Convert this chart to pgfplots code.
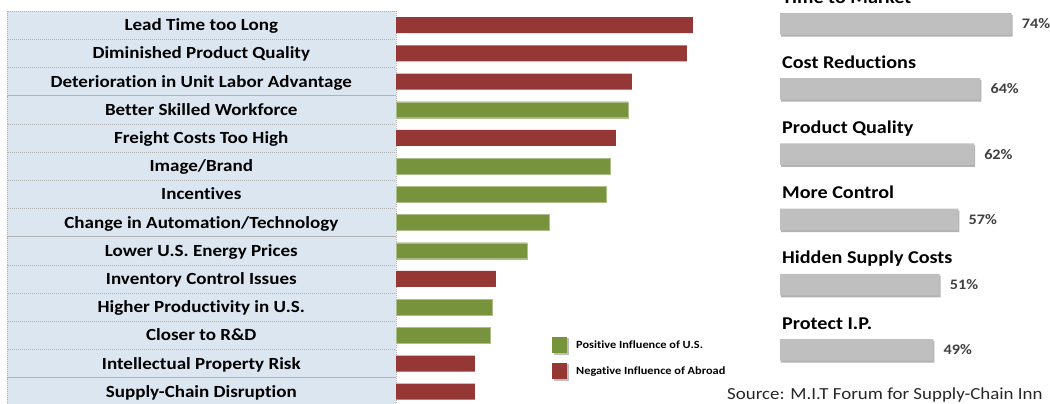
\documentclass[border=0pt]{standalone}
\usepackage{fontspec}
\setmainfont{Carlito}[FakeStretch=1.12, Ligatures=NoCommon]
\usepackage{pgfplots}
\pgfplotsset{compat=1.18}
\usetikzlibrary{shadows}

\definecolor{negred}{HTML}{953735}
\definecolor{posgreen}{HTML}{77933C}
\definecolor{cellblue}{HTML}{DCE6F1}
\definecolor{bargray}{HTML}{BFBFBF}
\definecolor{pctgray}{HTML}{404040}

\begin{document}
\begin{tikzpicture}
\useasboundingbox (0,0) rectangle (1050bp,404bp);
\clip (0,0) rectangle (1050bp,404bp);

% left: factors behind reshoring
\begin{axis}[
    at={(396bp,393bp)}, anchor=north west,
    scale only axis, width=330bp, height=394.8bp,
    xmin=0, xmax=66, ymin=-0.5, ymax=13.5, y dir=reverse,
    xbar, bar width=16bp, bar shift=0pt,
    axis line style={draw=none},
    xtick=\empty, ytick={0,...,13}, major tick length=0pt,
    yticklabels={Lead Time too Long, Diminished Product Quality,
        Deterioration in Unit Labor Advantage, Better Skilled Workforce,
        Freight Costs Too High, Image/Brand, Incentives,
        Change in Automation/Technology, Lower U.S. Energy Prices,
        Inventory Control Issues, Higher Productivity in U.S.,
        Closer to R\&D, Intellectual Property Risk, Supply-Chain Disruption},
    yticklabel style={font=\bfseries\fontsize{17bp}{17bp}\selectfont,
        fill=cellblue, draw=black!30, dash pattern=on 1bp off 1bp,
        minimum width=389bp, minimum height=28.2bp, inner sep=0pt,
        text height=13bp, text depth=2bp, anchor=east, align=center},
    legend style={draw=none, fill=none, at={(0.4727,0.176)}, anchor=north west,
        font=\bfseries\fontsize{11bp}{11bp}\selectfont, row sep=8bp,
        inner sep=0pt, nodes={inner sep=1bp}},
    legend cell align=left,
    legend image code/.code={
        \path[draw=none, fill=none] (0bp,0bp) -- (23bp,0bp);
        \fill[black!25, draw=none] (1.5bp,-9.5bp) rectangle (16.5bp,7.5bp);
        \fill[#1, draw=none] (0bp,-8bp) rectangle (15bp,8.5bp);},
]
\addplot[fill=posgreen, draw=posgreen!60!white] coordinates {
    (46.4,3) (42.8,5) (42.0,6) (30.6,7) (26.2,8) (19.2,10) (18.8,11)};
\addlegendentry{Positive Influence of U.S.}
\addplot[fill=negred, draw=none] coordinates {
    (59.4,0) (58.2,1) (47.2,2) (44.0,4) (20.0,9) (15.8,12) (15.8,13)};
\addlegendentry{Negative Influence of Abroad}
\end{axis}

% right: reasons, share of respondents
\begin{axis}[
    at={(780bp,412.8bp)}, anchor=north west,
    scale only axis, width=250.4bp, height=391.2bp,
    xmin=0, xmax=80, ymin=-0.5, ymax=5.5, y dir=reverse,
    xbar, bar width=21.5bp, hide axis, clip=false,
    point meta=x,
    nodes near coords={\pgfmathprintnumber{\pgfplotspointmeta}\%},
    every node near coord/.append style={font=\bfseries\fontsize{14.5bp}{14.5bp}\selectfont,
        text=pctgray, anchor=west, inner sep=0pt, xshift=10bp},
    /pgf/number format/assume math mode=true,
]
\addplot[fill=bargray, draw=none,
    drop shadow={shadow xshift=1bp, shadow yshift=-2bp, opacity=0.3, fill=black}]
    coordinates {(74,0) (64,1) (62,2) (57,3) (51,4) (49,5)};
\tikzset{rtitle/.style={anchor=base west, inner sep=0pt, xshift=2bp, yshift=20.75bp,
    font=\bfseries\fontsize{18bp}{18bp}\selectfont}}
\node[rtitle] at (axis cs:0,0) {Time to Market};
\node[rtitle] at (axis cs:0,1) {Cost Reductions};
\node[rtitle] at (axis cs:0,2) {Product Quality};
\node[rtitle] at (axis cs:0,3) {More Control};
\node[rtitle] at (axis cs:0,4) {Hidden Supply Costs};
\node[rtitle] at (axis cs:0,5) {Protect I.P.};
\end{axis}

\node[anchor=base west, inner sep=0pt, font=\fontsize{16.9bp}{16.9bp}\selectfont, text=black!85]
    at (727bp,5bp) {Source: M.I.T Forum for Supply-Chain Inn};
\end{tikzpicture}
\end{document}
